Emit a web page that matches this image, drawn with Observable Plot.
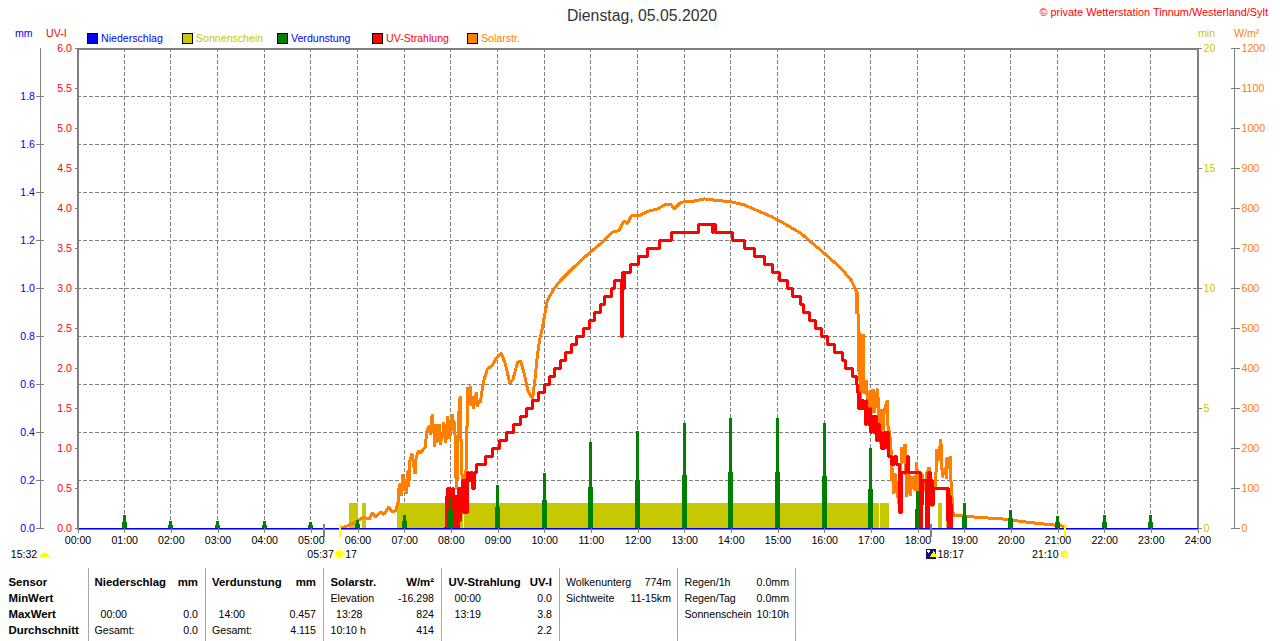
<!DOCTYPE html>
<html><head><meta charset="utf-8">
<script src="https://cdn.jsdelivr.net/npm/d3@7"></script>
<script src="https://cdn.jsdelivr.net/npm/@observablehq/plot@0.6"></script>
<style>
html,body{margin:0;padding:0;background:#fff;overflow:hidden;width:1280px;height:641px;font-family:"Liberation Sans",Arial,sans-serif;font-size:10.6px;color:#000}
#head{position:relative;height:42px;width:1280px}
#foot{position:relative;height:71px;width:1280px}
#head span,#foot span{position:absolute;white-space:nowrap;line-height:14px}
#head i{position:absolute;width:9px;height:9px;border:1px solid #000;top:33px}
#foot b{font-weight:bold;font-size:11.4px}
#foot u{position:absolute;top:-2px;bottom:0;width:1px;background:#a8a8a8}
</style></head><body>
<div id="head"></div><div id="chart"></div><div id="foot"></div>
<script>
const hourTicks = d3.range(0, 25);
const precipHours = [0,24];
const precipValues = [0,0];
const evapHours = d3.range(1, 24);
const evapValues = [0.054,0.03,0.03,0.03,0.025,0.033,0.054,0.129,0.18,0.23,0.358,0.404,0.4375,0.457,0.457,0.4375,0.333,0.155,0.104,0.075,0.05,0.054,0.054];
const evapBase =   [0.025,0.012,0.012,0.012,0.012,0.016,0.03,0.075,0.087,0.117,0.171,0.2,0.22,0.233,0.233,0.217,0.163,0.079,0.05,0.04,0.025,0.025,0.025];
const sunStart = [350,366,411,497,1032.5,1107.5,1117];
const sunEnd =   [361,372,496,1031,1044,1112,1122];
const sunMinutes = 1.04;
// [minute of day, W/m²]
const solarReadings = [[339,1],[345,5],[357,16],[368,28],[375,24],[379,38],[383,30],[390,41],[394,35],[400,53],[405,41],[409,45],[412,62],[413,99],[415,112],[417,82],[418,137],[420,95],[422,124],[423,87],[425,145],[426,105],[427,167],[430,187],[432,162],[434,137],[435,172],[437,187],[439,195],[441,187],[445,199],[447,203],[449,241],[452,257],[454,235],[456,287],[457,250],[458,262],[459,203],[460,240],[461,262],[462,215],[464,224],[465,262],[467,210],[468,232],[470,240],[471,266],[473,215],[474,224],[475,260],[476,282],[478,225],[480,237],[481,270],[482,287],[484,245],[485,266],[486,180],[487,99],[488,124],[489,199],[490,280],[492,332],[493,230],[494,149],[495,110],[497,99],[498,135],[500,149],[501,280],[502,353],[504,345],[505,357],[506,307],[508,330],[509,299],[511,325],[513,341],[514,305],[516,320],[518,315],[521,357],[523,374],[527,399],[533,407],[538,424],[545,438],[550,412],[556,362],[560,374],[566,416],[570,418],[575,382],[579,345],[585,324],[588,370],[591,428],[594,470],[597,495],[604,570],[613,600],[621,620],[634,645],[647,670],[662,695],[675,716],[688,741],[696,745],[703,770],[707,762],[712,782],[722,782],[733,793],[746,799],[756,810],[763,810],[767,799],[776,816],[789,817],[806,824],[823,820],[840,817],[857,809],[874,795],[892,780],[909,762],[930,738],[956,695],[982,650],[995,620],[1001,595],[1002,537],[1003,591],[1004,487],[1005,370],[1006,491],[1007,320],[1008,487],[1009,370],[1010,487],[1011,340],[1012,337],[1014,370],[1016,303],[1017,266],[1018,330],[1019,345],[1020,280],[1021,312],[1022,349],[1023,300],[1024,349],[1025,290],[1026,320],[1028,345],[1029,349],[1030,262],[1031,230],[1032,212],[1033,280],[1034,299],[1035,235],[1036,228],[1037,290],[1039,308],[1041,320],[1042,260],[1043,228],[1044,245],[1046,195],[1047,120],[1048,150],[1049,87],[1050,120],[1052,137],[1053,90],[1054,112],[1055,75],[1056,62],[1057,100],[1058,128],[1059,170],[1060,203],[1062,165],[1064,212],[1065,150],[1066,78],[1067,140],[1069,137],[1070,90],[1071,82],[1073,130],[1075,120],[1077,95],[1079,166],[1080,120],[1082,78],[1084,125],[1086,137],[1088,100],[1090,95],[1092,140],[1095,153],[1097,90],[1099,53],[1101,95],[1103,103],[1104,150],[1105,199],[1107,170],[1108,190],[1110,224],[1111,165],[1112,128],[1114,145],[1116,153],[1117,125],[1118,178],[1120,150],[1122,182],[1123,120],[1125,60],[1126,32],[1135,32],[1144,30],[1165,27],[1195,23],[1212,18],[1238,12],[1260,8],[1270,5]];
// [minute of day, UV index], each reading holds until the next one
const uvReadings = [[473,0],[474,0.4],[475,0],[476,0.5],[477,0.3],[478,0.5],[480,0.4],[482,0.5],[483,0.3],[484,0],[486,0.4],[487,0],[488,0.4],[489,0],[490,0.5],[491,0.1],[492,0.5],[493,0.2],[494,0.4],[495,0.6],[496,0.2],[497,0.6],[498,0.2],[499,0.6],[500,0.2],[501,0.7],[503,0.6],[505,0.7],[507,0.7],[508,0.5],[510,0.6],[511,0.7],[513,0.8],[524,0.9],[534,1.0],[543,1.1],[551,1.2],[560,1.3],[569,1.4],[577,1.5],[585,1.6],[593,1.7],[600,1.8],[607,1.9],[613,2.0],[621,2.1],[627,2.2],[635,2.3],[642,2.4],[651,2.5],[658,2.6],[665,2.7],[672,2.8],[677,2.9],[687,3.0],[691,3.1],[700,2.4],[701,3.2],[702,3.0],[703,3.2],[711,3.3],[721,3.4],[733,3.5],[748,3.6],[764,3.7],[799,3.8],[816,3.7],[818,3.8],[820,3.7],[842,3.6],[858,3.5],[870,3.4],[883,3.3],[894,3.2],[903,3.1],[913,3.0],[919,2.9],[929,2.8],[934,2.7],[941,2.6],[949,2.5],[957,2.4],[964,2.3],[973,2.2],[983,2.1],[988,2.0],[997,1.9],[1002,1.8],[1003,1.7],[1004,1.5],[1005,1.7],[1006,1.5],[1008,1.6],[1009,1.5],[1010,1.6],[1011,1.5],[1013,1.3],[1014,1.6],[1015,1.4],[1016,1.5],[1017,1.3],[1019,1.5],[1020,1.2],[1021,1.4],[1022,1.3],[1023,1.4],[1024,1.2],[1025,1.4],[1027,1.1],[1028,1.3],[1029,1.2],[1030,1.3],[1031,1.1],[1033,1.2],[1034,1.0],[1035,1.1],[1036,1.0],[1037,1.2],[1039,1.1],[1040,1.2],[1041,1.0],[1042,1.2],[1043,0.9],[1047,0.8],[1051,0.9],[1053,0.8],[1057,0.2],[1059,0.7],[1066,0.8],[1067,0.9],[1068,0.7],[1084,0],[1085,0.6],[1086,0.3],[1087,0.6],[1092,0],[1094,0.7],[1095,0.4],[1096,0.7],[1097,0.3],[1098,0.6],[1099,0.3],[1100,0.5],[1117,0.5],[1118,0.1],[1119,0.5],[1120,0],[1121,0.4],[1122,0],[1123,0.3],[1124,0]];
const mmTicks = [0,0.2,0.4,0.6,0.8,1.0,1.2,1.4,1.6,1.8];
const uvTicks = d3.range(0,13).map(d=>d/2);
const minTicks = [0,5,10,15,20];
const wTicks = d3.range(0,1300,100);
const gridMm = [0.2,0.4,0.6,0.8,1.0,1.2,1.4,1.6,1.8];
const grayTicks = [317,1097];
const yellowTicks = [337,1270];
const legendItems = [["Niederschlag","#0000ff","#0000ff",87],["Sonnenschein","#c8c800","#c8c800",182],["Verdunstung","#008000","#0000ff",277],["UV-Strahlung","#ff0000","#ff0000",372],["Solarstr.","#ff8000","#ff8000",467]];
const unitLabels = [["mm","#0000ff",15],["UV-I","#ff0000",46],["min","#c8c800",1198],["W/m²","#ff8000",1234]];
const footCells = [
[8.5,0,"Sensor",1,"l"],[8.5,1,"MinWert",1,"l"],[8.5,2,"MaxWert",1,"l"],[8.5,3,"Durchschnitt",1,"l"],
[94.5,0,"Niederschlag",1,"l"],[198,0,"mm",1,"r"],[100.5,2,"00:00",0,"l"],[198,2,"0.0",0,"r"],[94.5,3,"Gesamt:",0,"l"],[198,3,"0.0",0,"r"],
[212,0,"Verdunstung",1,"l"],[316,0,"mm",1,"r"],[218.5,2,"14:00",0,"l"],[316,2,"0.457",0,"r"],[212,3,"Gesamt:",0,"l"],[316,3,"4.115",0,"r"],
[330.5,0,"Solarstr.",1,"l"],[434,0,"W/m²",1,"r"],[330.5,1,"Elevation",0,"l"],[434,1,"-16.298",0,"r"],[336,2,"13:28",0,"l"],[434,2,"824",0,"r"],[330.5,3,"10:10 h",0,"l"],[434,3,"414",0,"r"],
[448.5,0,"UV-Strahlung",1,"l"],[552,0,"UV-I",1,"r"],[454.5,1,"00:00",0,"l"],[552,1,"0.0",0,"r"],[454.5,2,"13:19",0,"l"],[552,2,"3.8",0,"r"],[552,3,"2.2",0,"r"],
[566,0,"Wolkenunterg",0,"l"],[671,0,"774m",0,"r"],[566,1,"Sichtweite",0,"l"],[671,1,"11-15km",0,"r"],
[684.5,0,"Regen/1h",0,"l"],[789,0,"0.0mm",0,"r"],[684.5,1,"Regen/Tag",0,"l"],[789,1,"0.0mm",0,"r"],[684.5,2,"Sonnenschein",0,"l"],[789,2,"10:10h",0,"r"]];
const footSeps = [88,205,323,441,559,677,795];

// all series share the UV-I y scale; the other units map onto it
const fromMm = v => v*3, fromMin = v => v*0.3, fromW = v => v*0.005;
const gray = "#808080", ink = "#000";
const hhmm = m => d3.format("02")(Math.floor(m/60))+":"+d3.format("02")(m%60);

const head = document.getElementById("head");
head.innerHTML = `<span style="left:0;width:1284px;text-align:center;top:7px;font-size:15.8px;line-height:18px;color:#333">Dienstag, 05.05.2020</span>`+
`<span style="right:12px;top:5px;color:#ff0000;font-size:10.9px">© private Wetterstation Tinnum/Westerland/Sylt</span>`+
legendItems.map(([t,c,tc,x])=>`<i style="left:${x}px;background:${c}"></i><span style="left:${x+14}px;top:31px;color:${tc}">${t}</span>`).join("")+
unitLabels.map(([t,c,x])=>`<span style="left:${x}px;top:26px;color:${c}">${t}</span>`).join("");

const halfSun = {draw(c,s){const r=Math.sqrt(s/Math.PI);c.moveTo(-r,0);c.arc(0,0,r,Math.PI,0);c.closePath();}};

const plot = Plot.plot({
  width:1280, height:528, marginTop:6, marginBottom:42, marginLeft:77, marginRight:83,
  style:{background:"transparent",overflow:"visible",fontFamily:"'Liberation Sans',Arial,sans-serif",fontSize:"10.6px",color:ink,shapeRendering:"crispEdges"},
  x:{domain:[0,1440]}, y:{domain:[0,6]},
  marks:[
    Plot.ruleX(hourTicks.slice(1,-1),{x:d=>d*60,stroke:gray,strokeDasharray:"3.5,2.5"}),
    Plot.ruleY(gridMm,{y:fromMm,stroke:gray,strokeDasharray:"3.5,2.5"}),
    Plot.rect(sunStart,{x1:d=>d,x2:(d,i)=>sunEnd[i],y1:0,y2:fromMin(sunMinutes),fill:"#c8c800",inset:0}),
    Plot.line(solarReadings,{x:d=>d[0],y:d=>fromW(d[1]),stroke:"#ff8000",strokeWidth:3,strokeLinejoin:"miter"}),
    Plot.line(uvReadings,{x:d=>d[0],y:d=>d[1],stroke:"#ff0000",strokeWidth:3,curve:"step-after",strokeLinejoin:"miter"}),
    Plot.ruleX(evapHours,{x:d=>d*60,y1:0,y2:(d,i)=>fromMm(evapValues[i]),stroke:"#008000",strokeWidth:3}),
    Plot.ruleX(evapHours,{x:d=>d*60,y1:0,y2:(d,i)=>fromMm(evapBase[i]),stroke:"#008000",strokeWidth:5}),
    Plot.frame({stroke:gray,strokeWidth:2}),
    Plot.line(precipHours,{x:d=>d*60,y:(d,i)=>fromMm(precipValues[i]),stroke:"#0000ff",strokeWidth:1,dy:-0.5}),
    Plot.ruleX(grayTicks,{x:d=>d,y1:-0.11,y2:0.05,stroke:gray,strokeWidth:2}),
    Plot.ruleX(yellowTicks,{x:d=>d,y1:-0.11,y2:0.05,stroke:"#ffff00",strokeWidth:2}),
    Plot.axisX(hourTicks.map(d=>d*60),{anchor:"bottom",dx:0.5,tickSize:5,tickPadding:3,tickFormat:hhmm,stroke:gray,fill:ink}),
    Plot.ruleX([0],{dx:-37,y1:0,y2:6,stroke:gray}),
    Plot.axisY(mmTicks.map(fromMm),{anchor:"left",dx:-33,tickSize:8,tickPadding:1.5,tickFormat:v=>(v/3).toFixed(1),stroke:gray,fill:"#0000ff"}),
    Plot.axisY(uvTicks,{anchor:"left",dx:1,tickSize:3,tickPadding:3.5,tickFormat:v=>v.toFixed(1),stroke:gray,fill:"#ff0000"}),
    Plot.axisY(minTicks.map(fromMin),{anchor:"right",tickSize:4,tickPadding:2,tickFormat:v=>d3.format(".0f")(v/0.3),stroke:gray,fill:"#c8c800"}),
    Plot.ruleX([1440],{dx:37,y1:0,y2:6,stroke:gray}),
    Plot.axisY(wTicks.map(fromW),{anchor:"right",dx:33,tickSize:9,tickPadding:2,tickFormat:v=>d3.format(".0f")(v/0.005),stroke:gray,fill:"#ff8000"}),
    // second row under the axis: sun day length, sunrise, moon and sunset
    Plot.text(["15:32"],{x:0,y:-0.32,dx:-53.5,fill:ink}),
    Plot.dot([0],{x:0,y:-0.33,dx:-33,dy:2,r:4.5,symbol:halfSun,fill:"#ffff00"}),
    Plot.text(["05:37"],{x:337,y:-0.32,dx:-19,fill:ink}),
    Plot.dot([337],{x:d=>d,y:-0.32,r:6,fill:"#ffffb0",stroke:"none"}),
    Plot.dot([337],{x:d=>d,y:-0.32,r:3.5,fill:"#ffff00",stroke:"none"}),
    Plot.text(["17"],{x:337,y:-0.32,dx:11.5,fill:ink}),
    Plot.dot([1097],{x:d=>d,y:-0.32,dx:0.5,r:5.5,symbol:"square",fill:"#14146e",stroke:"none"}),
    Plot.dot([1097],{x:d=>d,y:-0.32,dx:-2,dy:-3,r:1.6,fill:"#fff",stroke:"none"}),
    Plot.dot([1097],{x:d=>d,y:-0.32,dx:3,dy:1,r:3,symbol:"triangle",fill:"#ffff00",stroke:"none"}),
    Plot.text(["18:17"],{x:1097,y:-0.32,dx:20,fill:ink}),
    Plot.text(["21:10"],{x:1270,y:-0.32,dx:-20,fill:ink}),
    Plot.dot([1270],{x:d=>d,y:-0.32,dx:-1,r:2.5,symbol:"square",fill:"#fff",stroke:"#ffff00",strokeWidth:1.5})
  ]
});
document.getElementById("chart").appendChild(plot);

document.getElementById("foot").innerHTML =
 footSeps.map(x=>`<u style="left:${x}px"></u>`).join("")+
 footCells.map(([x,r,t,b,a])=>{
   const top = 5+r*16;
   const pos = a==="l"?`left:${x}px`:`right:${1280-x}px`;
   return `<span style="${pos};top:${top}px">${b?`<b>${t}</b>`:t}</span>`;
 }).join("");
</script>
</body></html>
